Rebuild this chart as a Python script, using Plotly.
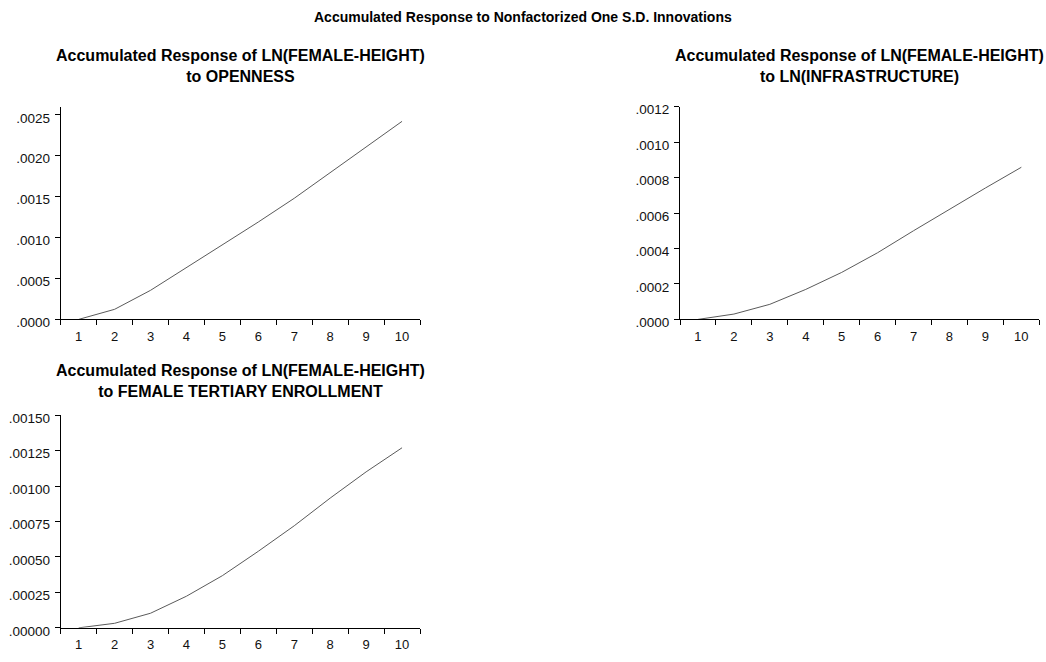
import plotly.graph_objects as go

periods = ["1", "2", "3", "4", "5", "6", "7", "8", "9", "10"]

openness = [0.0, 0.000123, 0.000355, 0.000635, 0.000905, 0.00119, 0.00148, 0.00179, 0.00211, 0.00242]
infrastructure = [0.0, 0.00003, 0.000085, 0.000169, 0.000265, 0.000376, 0.0005, 0.000622, 0.000741, 0.000858]
tertiary = [0.0, 0.000032, 0.000103, 0.000223, 0.000368, 0.00054, 0.00072, 0.000915, 0.0011, 0.00127]

ticks_open = [0.0, 0.0005, 0.0010, 0.0015, 0.0020, 0.0025]
labels_open = [".0000", ".0005", ".0010", ".0015", ".0020", ".0025"]
ticks_infra = [0.0, 0.0002, 0.0004, 0.0006, 0.0008, 0.0010, 0.0012]
labels_infra = [".0000", ".0002", ".0004", ".0006", ".0008", ".0010", ".0012"]
ticks_tert = [0.0, 0.00025, 0.0005, 0.00075, 0.0010, 0.00125, 0.0015]
labels_tert = [".00000", ".00025", ".00050", ".00075", ".00100", ".00125", ".00150"]

main_title = "Accumulated Response to Nonfactorized One S.D. Innovations"
titles = [
    "Accumulated Response of LN(FEMALE-HEIGHT)<br>to OPENNESS",
    "Accumulated Response of LN(FEMALE-HEIGHT)<br>to LN(INFRASTRUCTURE)",
    "Accumulated Response of LN(FEMALE-HEIGHT)<br>to FEMALE TERTIARY ENROLLMENT",
]

W, H = 1046, 662
FONT = "Liberation Sans, Arial, sans-serif"
LINE = "#5a5a5a"

fig = go.Figure()

panels = [
    dict(data=openness, tv=ticks_open, tt=labels_open, rng=[0, 0.0026],
         x0=60.7, x1=420.0, y0=105.0, y1=322.7, title=titles[0], ty=63.5),
    dict(data=infrastructure, tv=ticks_infra, tt=labels_infra, rng=[0, 0.0012],
         x0=680.0, x1=1039.3, y0=105.0, y1=322.7, title=titles[1], ty=63.5),
    dict(data=tertiary, tv=ticks_tert, tt=labels_tert, rng=[0, 0.0015],
         x0=60.7, x1=420.0, y0=420.7, y1=638.3, title=titles[2], ty=385.5),
]

for i, p in enumerate(panels):
    n = "" if i == 0 else str(i + 1)
    fig.add_trace(go.Scatter(x=periods, y=p["data"], mode="lines",
                             line=dict(color=LINE, width=1),
                             xaxis="x" + n, yaxis="y" + n, showlegend=False,
                             hoverinfo="x+y"))
    xd = [p["x0"] / W, p["x1"] / W]
    yd = [1 - p["y1"] / H, 1 - p["y0"] / H]
    fig.layout["xaxis" + n] = dict(
        domain=xd, anchor="y" + n, type="category", tickson="boundaries",
        showline=True, linecolor="black", linewidth=1, ticks="outside",
        ticklen=5, tickcolor="black", showgrid=False, zeroline=False,
        ticklabelstandoff=5,
        tickfont=dict(family=FONT, size=13, color="#111111"),
        range=[-0.5, 9.5], fixedrange=True)
    fig.layout["yaxis" + n] = dict(
        domain=yd, anchor="x" + n, range=p["rng"], tickmode="array",
        tickvals=p["tv"], ticktext=p["tt"], showline=True, linecolor="black",
        linewidth=1, ticks="outside", ticklen=5, tickcolor="black",
        showgrid=False, zeroline=False, ticklabelshift=3, ticklabelstandoff=2,
        tickfont=dict(family=FONT, size=13.5, color="#111111"), fixedrange=True)
    fig.add_annotation(text="<b>" + p["title"].replace("<br>", "</b><br><b>") + "</b>",
                       x=(p["x0"] + p["x1"]) / 2 / W, y=1 - p["ty"] / H,
                       xref="paper", yref="paper", xanchor="center", yanchor="middle",
                       showarrow=False, align="center",
                       font=dict(family=FONT, size=16, color="black"))

fig.add_annotation(text="<b>" + main_title + "</b>", x=0.5, y=1 - 13.5 / H,
                   xref="paper", yref="paper", xanchor="center", yanchor="middle",
                   showarrow=False, font=dict(family=FONT, size=14, color="black"))

fig.update_layout(width=W, height=H, margin=dict(l=0, r=0, t=0, b=0),
                  paper_bgcolor="white", plot_bgcolor="white")

fig.write_html("out.html")
